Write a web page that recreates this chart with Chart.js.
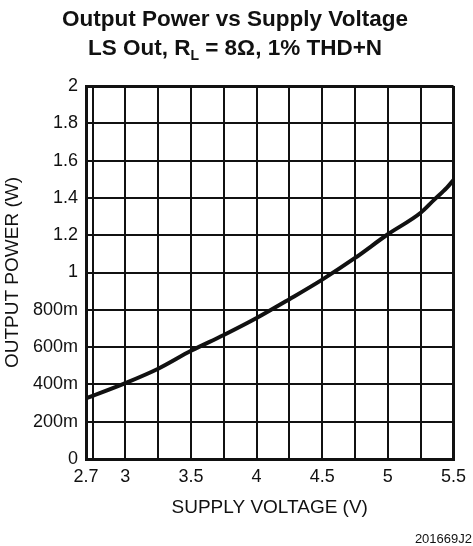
<!DOCTYPE html>
<html>
<head>
<meta charset="utf-8">
<script src="https://cdn.jsdelivr.net/npm/chart.js@4"></script>
<style>
    html, body { margin: 0; padding: 0; background: #fff; }
    #wrap { position: relative; width: 473px; height: 546px; font-family: 'Liberation Sans', Arial, sans-serif; color: #111; }
    #chart { position: absolute; left: 0; top: 0; }
    .title { position: absolute; left: 0; width: 470px; text-align: center; font-weight: bold; font-size: 22.5px; line-height: 26px; }
    .title sub { font-size: 14px; vertical-align: -5px; line-height: 0; }
    #figcode { position: absolute; right: 1px; top: 531px; font-size: 13px; }
</style>
</head>
<body>
<div id="wrap">
    <canvas id="chart" width="473" height="546"></canvas>
    <div class="title" style="top:6px;">Output Power vs Supply Voltage</div>
    <div class="title" style="top:35px;">LS Out, R<sub>L</sub> = 8Ω, 1% THD+N</div>
    <div id="figcode">201669J2</div>
</div>
<script>
// ── DATA ──────────────────────────────────────────────
const supplyVoltage = [2.7, 3.0, 3.25, 3.5, 3.75, 4.0, 4.25, 4.5, 4.75, 5.0, 5.25, 5.35, 5.45, 5.5];
const outputPower   = [0.325, 0.407, 0.484, 0.58, 0.665, 0.756, 0.857, 0.962, 1.078, 1.205, 1.32, 1.388, 1.455, 1.496];

const xTickValues = [2.7, 3, 3.5, 4, 4.5, 5, 5.5];
const xTickLabels = ['2.7', '3', '3.5', '4', '4.5', '5', '5.5'];
const xGridValues = [2.75, 3.25, 3.75, 4.25, 4.75, 5.25];

const yTickValues = [0, 0.2, 0.4, 0.6, 0.8, 1, 1.2, 1.4, 1.6, 1.8, 2];
const yTickLabels = ['0', '200m', '400m', '600m', '800m', '1', '1.2', '1.4', '1.6', '1.8', '2'];

const xMin = 2.7, xMax = 5.5, yMin = 0, yMax = 2;

// ── CHART ─────────────────────────────────────────────
const FONT = "'Liberation Sans', Arial, sans-serif";
const INK = '#111';

// frame lines (edge ticks) drawn heavier than the inner grid
function edgeWidth(ctx, lo, hi) {
    const v = ctx.tick ? ctx.tick.value : null;
    return (v === lo || v === hi) ? 3 : 2;
}

new Chart(document.getElementById('chart'), {
    type: 'line',
    data: {
        datasets: [{
            data: supplyVoltage.map((v, i) => ({ x: v, y: outputPower[i] })),
            borderColor: INK,
            borderWidth: 4,
            pointRadius: 0,
            cubicInterpolationMode: 'monotone',
            fill: false
        }]
    },
    options: {
        responsive: false,
        animation: false,
        layout: { padding: { top: 86, right: 14, bottom: 0, left: 0 } },
        plugins: { legend: { display: false }, tooltip: { enabled: false } },
        scales: {
            x: {
                type: 'linear',
                min: xMin,
                max: xMax,
                afterBuildTicks: s => {
                    s.ticks = [...xTickValues, ...xGridValues].sort((a, b) => a - b).map(v => ({ value: v }));
                },
                afterFit: s => { s.height = 87; },
                ticks: {
                    autoSkip: false,
                    maxRotation: 0,
                    padding: 7,
                    color: INK,
                    font: { family: FONT, size: 18 },
                    callback: v => {
                        const i = xTickValues.indexOf(v);
                        return i >= 0 ? xTickLabels[i] : '';
                    }
                },
                grid: { color: INK, lineWidth: c => edgeWidth(c, xMin, xMax), drawTicks: false },
                border: { color: INK, width: 3 },
                title: {
                    display: true,
                    text: 'SUPPLY VOLTAGE (V)',
                    color: INK,
                    font: { family: FONT, size: 19 },
                    padding: { top: 0, bottom: 27 }
                }
            },
            y: {
                min: yMin,
                max: yMax,
                afterBuildTicks: s => { s.ticks = yTickValues.map(v => ({ value: v })); },
                afterFit: s => { s.width = 86; },
                ticks: {
                    padding: 8,
                    color: INK,
                    font: { family: FONT, size: 18 },
                    callback: v => {
                        const i = yTickValues.indexOf(v);
                        return i >= 0 ? yTickLabels[i] : '';
                    }
                },
                grid: { color: INK, lineWidth: c => edgeWidth(c, yMin, yMax), drawTicks: false },
                border: { color: INK, width: 3 },
                title: {
                    display: true,
                    text: 'OUTPUT POWER (W)',
                    color: INK,
                    font: { family: FONT, size: 19 },
                    padding: { top: 1, bottom: 0 }
                }
            }
        }
    }
});
</script>
</body>
</html>
